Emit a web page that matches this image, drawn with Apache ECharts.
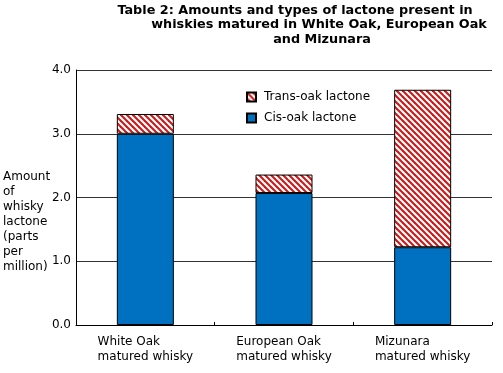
<!DOCTYPE html>
<html>
<head>
<meta charset="utf-8">
<style>html,body{margin:0;padding:0;background:#fff;}#c{width:503px;height:373px;}</style>
<script src="https://cdn.jsdelivr.net/npm/echarts@6/dist/echarts.min.js"></script>
</head>
<body>
<div id="c"></div>
<script>
var categories = ['White Oak\nmatured whisky', 'European Oak\nmatured whisky', 'Mizunara\nmatured whisky'];
var cisValues = [3.0, 2.07, 1.22];
var transValues = [0.31, 0.29, 2.47];
var seriesNames = ['Cis-oak lactone', 'Trans-oak lactone'];
var titleLines = ['Table 2: Amounts and types of lactone present in', 'whiskies matured in White Oak, European Oak', 'and Mizunara'];
var yAxisTitle = 'Amount\nof\nwhisky\nlactone\n(parts\nper\nmillion)';

var FONT = 'DejaVu Sans';
function makeHatch() {
  var s = 6, cv = document.createElement('canvas');
  cv.width = s; cv.height = s;
  var ctx = cv.getContext('2d');
  ctx.fillStyle = '#ffffff'; ctx.fillRect(0, 0, s, s);
  ctx.strokeStyle = '#cc1a1a'; ctx.lineWidth = 2.1;
  [-s, 0, s].forEach(function (c) {
    ctx.beginPath(); ctx.moveTo(-2, -2 + c); ctx.lineTo(s + 2, s + 2 + c); ctx.stroke();
  });
  return cv;
}
var hatch = {image: makeHatch(), repeat: 'repeat'};
var TF = 'bold 12.8px "DejaVu Sans"';

var chart = echarts.init(document.getElementById('c'), null, {renderer: 'canvas'});
chart.setOption({
  animation: false,
  backgroundColor: '#fff',
  textStyle: {fontFamily: FONT},
  grid: {left: 76, right: 11, top: 70, bottom: 48},
  legend: {
    orient: 'vertical', left: 246, top: 90, padding: 0, itemWidth: 9, itemHeight: 9, itemGap: 7,
    icon: 'rect',
    data: [seriesNames[1], seriesNames[0]],
    textStyle: {fontFamily: FONT, fontSize: 12, color: '#000', padding: [0, 0, 0, 3], lineHeight: 14}
  },
  graphic: [
    {type: 'text', x: 295, y: 4, style: {text: titleLines[0], font: TF, fill: '#000', align: 'center', verticalAlign: 'top'}},
    {type: 'text', x: 319, y: 18.5, style: {text: titleLines[1], font: TF, fill: '#000', align: 'center', verticalAlign: 'top'}},
    {type: 'text', x: 322, y: 33, style: {text: titleLines[2], font: TF, fill: '#000', align: 'center', verticalAlign: 'top'}},
    {type: 'text', x: 3, y: 169, style: {text: yAxisTitle, font: '12px "DejaVu Sans"', fill: '#000', lineHeight: 15, align: 'left', verticalAlign: 'top'}}
  ],
  xAxis: {
    type: 'category', data: categories,
    axisLine: {lineStyle: {color: '#000', width: 1}},
    axisTick: {show: true, inside: true, length: 3, interval: 0, lineStyle: {color: '#000'}},
    axisLabel: {
      interval: 0, margin: 9, color: '#000', fontSize: 12, fontFamily: FONT, lineHeight: 15,
      formatter: function (v) { return v.split('\n').map(function (l) { return '{l|' + l + '}'; }).join('\n'); },
      rich: {l: {align: 'left', fontSize: 12, fontFamily: FONT, lineHeight: 15, color: '#000'}}
    }
  },
  yAxis: {
    type: 'value', min: 0, max: 4, interval: 1,
    axisLine: {show: true, lineStyle: {color: '#000'}},
    axisTick: {show: false},
    axisLabel: {margin: 5, color: '#000', fontSize: 12, fontFamily: FONT, formatter: function (v) { return v.toFixed(1); }},
    splitLine: {show: true, lineStyle: {color: '#333', width: 1}}
  },
  series: [
    {name: seriesNames[0], type: 'bar', stack: 'a', data: cisValues, barWidth: 57,
     itemStyle: {color: '#0070c0', borderColor: '#000', borderWidth: 1}},
    {name: seriesNames[1], type: 'bar', stack: 'a', data: transValues, barWidth: 57,
     itemStyle: {color: hatch, borderColor: '#000', borderWidth: 1}}
  ]
});
</script>
</body>
</html>
